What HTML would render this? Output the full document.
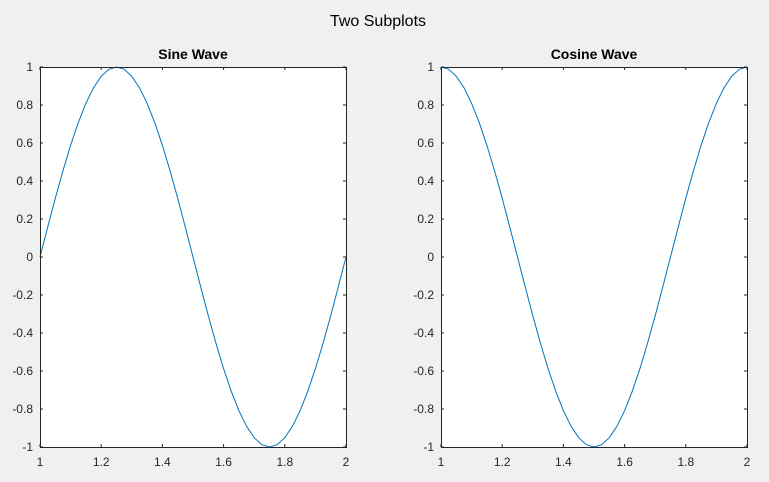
<!DOCTYPE html>
<html><head><meta charset="utf-8"><style>
body{margin:0;background:#f0f0f0;}
svg{display:block;font-family:"Liberation Sans",Arial,sans-serif;}
</style></head><body>
<svg id="fig" width="769" height="482">
<rect width="769" height="482" fill="#f0f0f0"/>
<text x="378" y="26" text-anchor="middle" font-size="16" fill="#000">Two Subplots</text>
</svg>
<script>
const xValues=[1,1.025,1.05,1.075,1.1,1.125,1.15,1.175,1.2,1.225,1.25,1.275,1.3,1.325,1.35,1.375,1.4,1.425,1.45,1.475,1.5,1.525,1.55,1.575,1.6,1.625,1.65,1.675,1.7,1.725,1.75,1.775,1.8,1.825,1.85,1.875,1.9,1.925,1.95,1.975,2];
const sineValues=[0,0.156,0.309,0.454,0.588,0.707,0.809,0.891,0.951,0.988,1,0.988,0.951,0.891,0.809,0.707,0.588,0.454,0.309,0.156,0,-0.156,-0.309,-0.454,-0.588,-0.707,-0.809,-0.891,-0.951,-0.988,-1,-0.988,-0.951,-0.891,-0.809,-0.707,-0.588,-0.454,-0.309,-0.156,0];
const cosineValues=[1,0.988,0.951,0.891,0.809,0.707,0.588,0.454,0.309,0.156,0,-0.156,-0.309,-0.454,-0.588,-0.707,-0.809,-0.891,-0.951,-0.988,-1,-0.988,-0.951,-0.891,-0.809,-0.707,-0.588,-0.454,-0.309,-0.156,0,0.156,0.309,0.454,0.588,0.707,0.809,0.891,0.951,0.988,1];
const xTicks=[1,1.2,1.4,1.6,1.8,2];
const xTickLabels=["1","1.2","1.4","1.6","1.8","2"];
const yTicks=[-1,-0.8,-0.6,-0.4,-0.2,0,0.2,0.4,0.6,0.8,1];
const yTickLabels=["-1","-0.8","-0.6","-0.4","-0.2","0","0.2","0.4","0.6","0.8","1"];
const NS="http://www.w3.org/2000/svg";
const svg=document.getElementById('fig');
function mk(tag,attrs,parent){const e=document.createElementNS(NS,tag);for(const k in attrs)e.setAttribute(k,attrs[k]);parent.appendChild(e);return e;}
function panel(left,title,ys,slug){
  const top=67,w=306,h=380;
  const sx=v=>left+(v-1)*w;
  const sy=v=>top+(1-v)/2*h;
  const g=mk('g',{},svg);
  
  
  const bg=mk('rect',{x:left,y:top,width:w,height:h,fill:'#fff'},g);
  
  
  const t=mk('text',{x:left+w/2,y:59,'text-anchor':'middle','font-size':'14','font-weight':'bold',fill:'#000'},g);
  t.textContent=title;
  
  
  xTicks.forEach((v,i)=>{
    const x=sx(v);
    const tk=mk('path',{d:`M${x},${top+h}v-3M${x},${top}v3`,stroke:'#262626','stroke-width':1},g);
    
    
    const l=mk('text',{x:x,y:top+h+19,'text-anchor':'middle','font-size':'12',fill:'#262626'},g);
    l.textContent=xTickLabels[i];
    
    
  });
  yTicks.forEach((v,i)=>{
    const y=sy(v);
    const tk=mk('path',{d:`M${left},${y}h3M${left+w},${y}h-3`,stroke:'#262626','stroke-width':1},g);
    
    
    const l=mk('text',{x:left-7,y:y+4,'text-anchor':'end','font-size':'12',fill:'#262626'},g);
    l.textContent=yTickLabels[i];
    
    
  });
  const d=xValues.map((v,i)=>(i?'L':'M')+sx(v).toFixed(2)+','+sy(ys[i]).toFixed(2)).join('');
  const p=mk('path',{d:d,fill:'none',stroke:'#0072BD','stroke-width':1},g);
  
  
  const box=mk('rect',{x:left+0.5,y:top+0.5,width:w,height:h,fill:'none',stroke:'#262626','stroke-width':1},g);
  
  
}
panel(40,'Sine Wave',sineValues,'sine');
panel(441,'Cosine Wave',cosineValues,'cosine');
</script>
</body></html>
